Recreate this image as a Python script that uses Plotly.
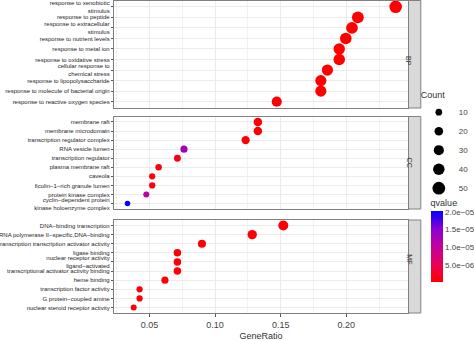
import math
import plotly.graph_objects as go

# ---------------- data ----------------
bp_terms = ["response to xenobiotic<br>stimulus", "response to peptide",
            "response to extracellular<br>stimulus", "response to nutrient levels",
            "response to metal ion", "response to oxidative stress",
            "cellular response to<br>chemical stress", "response to lipopolysaccharide",
            "response to molecule of bacterial origin", "response to reactive oxygen species"]
bp_ratio = [0.2376, 0.2088, 0.2043, 0.1996, 0.1946, 0.1946, 0.1856, 0.1806, 0.1806, 0.1470]
bp_count = [49, 43, 42, 41, 40, 40, 38, 37, 37, 30]
bp_q = [2e-7, 2e-7, 2e-7, 2e-7, 2e-7, 2e-7, 2e-7, 2e-7, 2e-7, 3e-7]

cc_terms = ["membrane raft", "membrane microdomain", "transcription regulator complex",
            "RNA vesicle lumen", "transcription regulator", "plasma membrane raft",
            "caveola", "ficolin\u22121\u2212rich granule lumen", "protein kinase complex",
            "cyclin\u2212dependent protein<br>kinase holoenzyme complex"]
cc_ratio = [0.1326, 0.1326, 0.1233, 0.0763, 0.0713, 0.0570, 0.0521, 0.0521, 0.0476, 0.0333]
cc_count = [20, 20, 18, 12, 11, 9, 8, 8, 7, 5]
cc_q = [3e-7, 3e-7, 5e-7, 1.25e-5, 1.5e-6, 6e-7, 8e-7, 8e-7, 1.05e-5, 2.0e-5]

mf_terms = ["DNA\u2212binding transcription", "RNA polymerase II\u2212specific,DNA\u2212binding",
            "transcription transcription activator activity", "ligase binding",
            "nuclear receptor activity<br>ligand\u2212activated",
            "transcriptional activator activity binding", "heme binding",
            "transcription factor activity", "G protein\u2212coupled amine",
            "nuclear steroid receptor activity"]
mf_ratio = [0.1520, 0.1283, 0.0900, 0.0713, 0.0713, 0.0713, 0.0618, 0.0425, 0.0425, 0.0380]
mf_count = [29, 25, 17, 14, 14, 14, 12, 8, 8, 7]
mf_q = [4e-7, 4e-7, 5e-7, 5e-7, 5e-7, 5e-7, 5e-7, 5e-7, 5e-7, 6e-7]

legend_counts = [10, 20, 30, 40, 50]
q_ticks = [2.0e-5, 1.5e-5, 1.0e-5, 5.0e-6]
q_ticktext = ["2.0e\u221205", "1.5e\u221205", "1.0e\u221205", "5.0e\u221206"]
x_ticks = [0.05, 0.10, 0.15, 0.20]
panels = ["BP", "CC", "MF"]


def dsize(c):
    return math.sqrt(15.9 + 2.9 * c)


W, H = 474, 341
ML, MR, MT, MB = 114, 61, 0, 28
PW, PH = W - ML - MR, H - MT - MB


def py(px):
    return 1 - (px - MT) / PH


def pxp(px):
    return (px - ML) / PW


domains = [(py(108), py(0.5)), (py(209), py(116.5)), (0.0, py(220))]

fig = go.Figure()
sets = [(bp_terms, bp_ratio, bp_count, bp_q), (cc_terms, cc_ratio, cc_count, cc_q),
        (mf_terms, mf_ratio, mf_count, mf_q)]
for i, (terms, ratio, count, q) in enumerate(sets):
    s = "" if i == 0 else str(i + 1)
    fig.add_trace(go.Scatter(
        x=ratio, y=terms, mode="markers", showlegend=False,
        xaxis="x" + s, yaxis="y" + s,
        marker=dict(size=[dsize(c) for c in count], color=q, coloraxis="coloraxis",
                    line=dict(width=0), opacity=1),
    ))

for c in legend_counts:
    fig.add_trace(go.Scatter(x=[None], y=[None], mode="markers", name=str(c),
                             marker=dict(size=dsize(c), color="black"), showlegend=True))

axfont = dict(family="Liberation Sans, Arial", size=6, color="#1E1E1E")
layout = dict(
    width=W, height=H, margin=dict(l=ML, r=MR, t=MT, b=MB),
    plot_bgcolor="white", paper_bgcolor="white",
    font=dict(family="Liberation Sans, Arial", color="#333333"),
    coloraxis=dict(
        cmin=1.5e-7, cmax=2.02e-5,
        colorscale=[[0, "#FF0000"], [0.25, "#E8005A"], [0.5, "#C2009E"], [0.75, "#8A00D2"], [1, "#0000FF"]],
        colorbar=dict(
            title=dict(text="qvalue", font=dict(size=9, color="#333333"), side="top"),
            thickness=12, thicknessmode="pixels", len=86, lenmode="pixels",
            x=pxp(436), xanchor="left", y=py(282), yanchor="bottom",
            tickvals=q_ticks, ticktext=q_ticktext, tickfont=dict(size=8, color="#444444"),
            ticks="", outlinewidth=0, xpad=0, ypad=0,
        ),
    ),
    legend=dict(title=dict(text="Count", font=dict(size=9, color="#333333")),
                x=pxp(424), xanchor="left", y=py(86), yanchor="top",
                itemsizing="trace", font=dict(size=8, color="#444444"),
                bgcolor="rgba(0,0,0,0)", itemwidth=30),
)
for i, terms in enumerate([bp_terms, cc_terms, mf_terms]):
    s = "" if i == 0 else str(i + 1)
    layout["xaxis" + s] = dict(
        domain=[0, 1], anchor="y" + s, range=[0.023, 0.247],
        tickvals=x_ticks, ticktext=["0.05", "0.10", "0.15", "0.20"],
        showticklabels=(i == 2), ticks="outside" if i == 2 else "", ticklen=3, tickcolor="#555555",
        showgrid=True, gridcolor="#EBEBEB", gridwidth=1,
        minor=dict(dtick=0.025, tick0=0, showgrid=True, gridcolor="#F2F2F2"),
        showline=True, mirror=True, linecolor="#808080", linewidth=1.2,
        zeroline=False, tickfont=dict(size=9, color="#444444"),
        title=dict(text="GeneRatio" if i == 2 else "", font=dict(size=9, color="#333333"), standoff=6),
        automargin=False,
    )
    if i > 0:
        layout["xaxis" + s]["matches"] = "x"
    layout["yaxis" + s] = dict(
        domain=list(domains[i]), anchor="x" + s, type="category",
        categoryorder="array", categoryarray=terms, range=[9.6, -0.6],
        showgrid=True, gridcolor="#EBEBEB", gridwidth=1,
        showline=True, mirror=True, linecolor="#808080", linewidth=1.2,
        ticks="outside", ticklen=2, tickcolor="#555555", tickfont=axfont,
        zeroline=False, automargin=False,
    )

shapes, annotations = [], []
for i, name in enumerate(panels):
    y0, y1 = domains[i]
    shapes.append(dict(type="rect", xref="paper", yref="paper", x0=pxp(413.5), x1=pxp(426),
                       y0=y0, y1=y1, fillcolor="#D9D9D9", line=dict(color="#808080", width=1)))
    annotations.append(dict(text=name, xref="paper", yref="paper", x=pxp(419.75), y=(y0 + y1) / 2,
                            showarrow=False, textangle=90, font=dict(size=7, color="#333333")))
layout["shapes"] = shapes
layout["annotations"] = annotations

fig.update_layout(**layout)
fig.write_html("out.html")
